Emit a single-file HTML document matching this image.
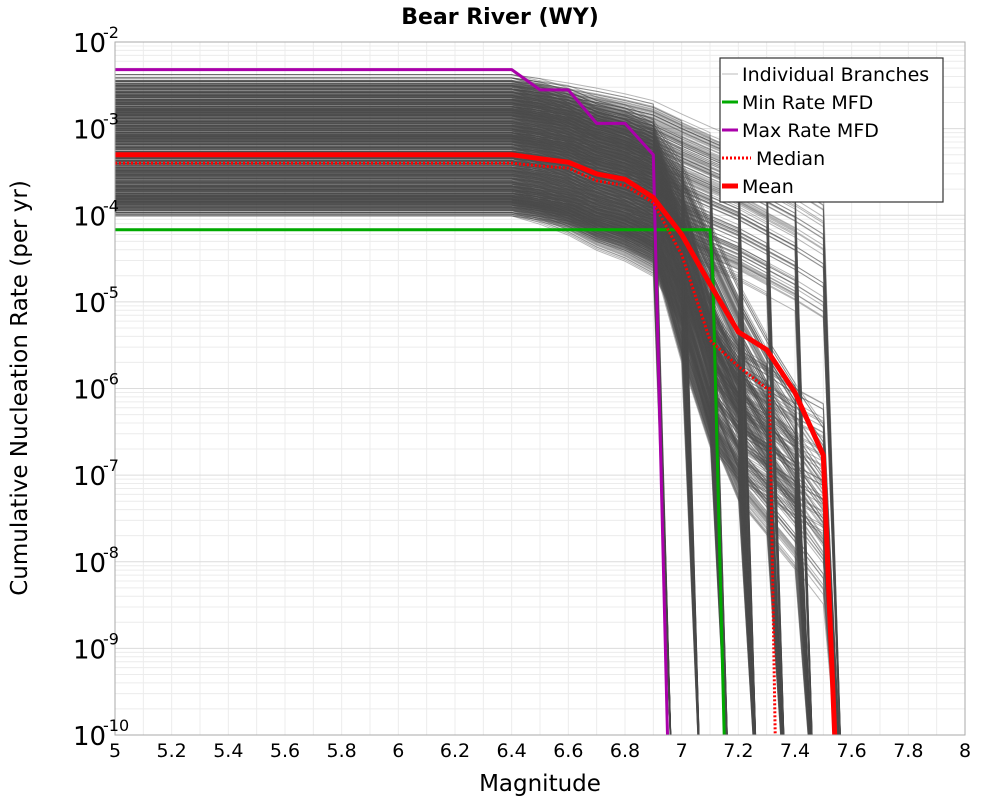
<!DOCTYPE html>
<html><head><meta charset="utf-8"><style>
html,body{margin:0;padding:0;background:#fff;width:1000px;height:800px;overflow:hidden}
svg{font-family:"DejaVu Sans","Liberation Sans",sans-serif}
</style></head><body>
<svg id="chart" width="1000" height="800" viewBox="0 0 1000 800" xmlns="http://www.w3.org/2000/svg">
<rect x="0" y="0" width="1000" height="800" fill="#fff"/>
<g id="grid"></g>
<g id="branches"></g>
<g id="series"></g>
<rect x="115" y="42" width="850" height="693" fill="none" stroke="#aaa" stroke-width="1"/>
<g id="axes"></g>
<text x="500" y="24" text-anchor="middle" font-size="22" font-weight="bold">Bear River (WY)</text>
<text x="540" y="791" text-anchor="middle" font-size="23">Magnitude</text>
<text transform="translate(27,388) rotate(-90)" text-anchor="middle" font-size="23">Cumulative Nucleation Rate (per yr)</text>
<g>
<rect x="720" y="58" width="223" height="144" fill="#fff" stroke="#333" stroke-width="1.2"/>
<g><line x1="722" y1="74" x2="738" y2="74" stroke="#bbb" stroke-width="1"/><text x="742" y="81" font-size="19">Individual Branches</text></g>
<g><line x1="722" y1="102" x2="738" y2="102" stroke="#00aa00" stroke-width="3"/><text x="742" y="109" font-size="19">Min Rate MFD</text></g>
<g><line x1="722" y1="130" x2="738" y2="130" stroke="#aa00aa" stroke-width="3"/><text x="742" y="137" font-size="19">Max Rate MFD</text></g>
<g><line x1="722" y1="158" x2="751" y2="158" stroke="#ff0000" stroke-width="3" stroke-dasharray="2,2"/><text x="756" y="165" font-size="19">Median</text></g>
<g><line x1="722" y1="186" x2="738" y2="186" stroke="#ff0000" stroke-width="5"/><text x="742" y="193" font-size="19">Mean</text></g>
</g>
</svg>
<script>
const xTicks=[5,5.2,5.4,5.6,5.8,6,6.2,6.4,6.6,6.8,7,7.2,7.4,7.6,7.8,8];
const yExps=[-2,-3,-4,-5,-6,-7,-8,-9,-10];
const meanMag=[5,6.4,6.5,6.6,6.7,6.8,6.9,7.0,7.1,7.2,7.3,7.4,7.5,7.54];
const meanRate=[5e-4,5e-4,4.5e-4,4.1e-4,3e-4,2.6e-4,1.6e-4,6e-5,1.6e-5,4.5e-6,2.8e-6,9e-7,1.7e-7,1e-10];
const medMag=[5,6.4,6.5,6.6,6.7,6.8,6.9,7.0,7.1,7.2,7.3,7.31,7.33];
const medRate=[4e-4,4e-4,3.7e-4,3.5e-4,2.5e-4,2.2e-4,1.4e-4,3.5e-5,3.6e-6,1.8e-6,1e-6,1e-6,1e-10];
const maxMag=[5,6.4,6.5,6.6,6.7,6.8,6.9,6.95];
const maxRate=[4.8e-3,4.8e-3,2.8e-3,2.8e-3,1.15e-3,1.15e-3,5e-4,1e-10];
const minMag=[5,7.1,7.11,7.15];
const minRate=[6.8e-5,6.8e-5,2e-5,1e-10];
const branchRates=[3.5e-3,3.2e-3,3e-3,2.8e-3,2.6e-3,2.4e-3,2.2e-3,2e-3,1.9e-3,1.8e-3,1.7e-3,1.6e-3,1.5e-3,1.4e-3,1.3e-3,1.2e-3,1.1e-3,1e-3,9.5e-4,9e-4,8.5e-4,8e-4,7.5e-4,7e-4,6.5e-4,6e-4,5.5e-4,5e-4,4.6e-4,4.2e-4,3.9e-4,3.6e-4,3.3e-4,3e-4,2.8e-4,2.6e-4,2.4e-4,2.2e-4,2e-4,1.9e-4,1.8e-4,1.7e-4,1.6e-4,1.5e-4,1.4e-4,1.3e-4,1.25e-4,1.2e-4];
const rateScales=[0.82,0.9,1,1.1,1.2];
const branchMmax=[6.95,7.05,7.15,7.25,7.35,7.45,7.55];
const profMag=[6.4,6.5,6.6,6.7,6.8,6.9,7.0,7.1,7.2,7.3,7.4,7.5];
const profSteep=[1,0.85,0.75,0.55,0.45,0.3,0.1,0.02,0.004,0.001,0.0003,0.0001];
const profGentle=[1,0.9,0.8,0.7,0.6,0.5,0.35,0.25,0.18,0.12,0.08,0.05];
const profMid=[1,0.8,0.6,0.4,0.3,0.2,0.05,0.003,0.0005,0.0002,0.00008,0.00003];
const profDeep=[1,0.9,0.7,0.5,0.4,0.3,0.02,0.002,0.0008,0.0005,0.0003,0.0002];
const profiles=[profSteep,profGentle,profMid,profDeep];

const X0=115,X1=965,Y0=42,Y1=735;
const xs=m=>X0+(m-5)/3*(X1-X0);
const ys=r=>Y0+(-2-Math.log10(r))/8*(Y1-Y0);
const NS='http://www.w3.org/2000/svg';
function mk(t,a,p){const e=document.createElementNS(NS,t);for(const k in a)e.setAttribute(k,a[k]);p.appendChild(e);return e;}

const grid=document.getElementById('grid');
for(let m=5.1;m<8;m+=0.1){const l=mk('line',{x1:xs(m),x2:xs(m),y1:Y0,y2:Y1,stroke:'#ececec','stroke-width':1},grid);

}
for(let e=-10;e<-2;e++)for(let k=1;k<10;k++){const y=ys(k*Math.pow(10,e));const l=mk('line',{x1:X0,x2:X1,y1:y,y2:y,stroke:k==1?'#dcdcdc':'#ececec','stroke-width':1},grid);

}

const clip=mk('clipPath',{id:'pc'},document.getElementById('chart'));
mk('rect',{x:X0,y:Y0,width:X1-X0,height:Y1-Y0},clip);

const bg=document.getElementById('branches');
bg.setAttribute('clip-path','url(#pc)');
branchRates.forEach((r0,i)=>{
  rateScales.forEach((s,si)=>{
    for(let p=0;p<4;p++){
      const r=r0*s;
      const prof=profiles[(i+p+si)%4];
      const mm=branchMmax[(i*3+p*2+si)%7];
      const pts=[[5,r]];
      for(let k=0;k<profMag.length;k++){if(profMag[k]<mm)pts.push([profMag[k],r*prof[k]]);}
      pts.push([mm+0.02,1e-11]);
      const d=pts.map((q,j)=>(j?'L':'M')+xs(q[0]).toFixed(1)+','+ys(q[1]).toFixed(1)).join('');
      const pa=mk('path',{d:d,fill:'none',stroke:'#4a4a4a','stroke-width':1,'stroke-opacity':0.4},bg);
      
      
    }
  });
});

const sg=document.getElementById('series');
sg.setAttribute('clip-path','url(#pc)');
function series(M,R,stroke,w,dash,name){
  const d=M.map((m,j)=>(j?'L':'M')+xs(m).toFixed(1)+','+ys(R[j]).toFixed(1)).join('');
  const a={d:d,fill:'none',stroke:stroke,'stroke-width':w,'stroke-linejoin':'round'};
  if(dash)a['stroke-dasharray']=dash;
  const p=mk('path',a,sg);
  
  
}
series(minMag,minRate,'#00aa00',3,null,'min-rate-line');
series(maxMag,maxRate,'#aa00aa',3,null,'max-rate-line');
series(medMag,medRate,'#ff0000',3,'2,2','median-line');
series(meanMag,meanRate,'#ff0000',5,null,'mean-line');

const ax=document.getElementById('axes');
xTicks.forEach(t=>{const tx=mk('text',{x:xs(t),y:757,'text-anchor':'middle','font-size':19},ax);tx.textContent=String(t);

});
yExps.forEach(e=>{const y=ys(Math.pow(10,e));
  const tx=mk('text',{x:73,y:y+10,'font-size':26},ax);tx.textContent='10';
  
  
  const sp=mk('text',{x:103,y:y-4,'font-size':16},ax);sp.textContent=String(e);
  
  });
</script>
</body></html>
